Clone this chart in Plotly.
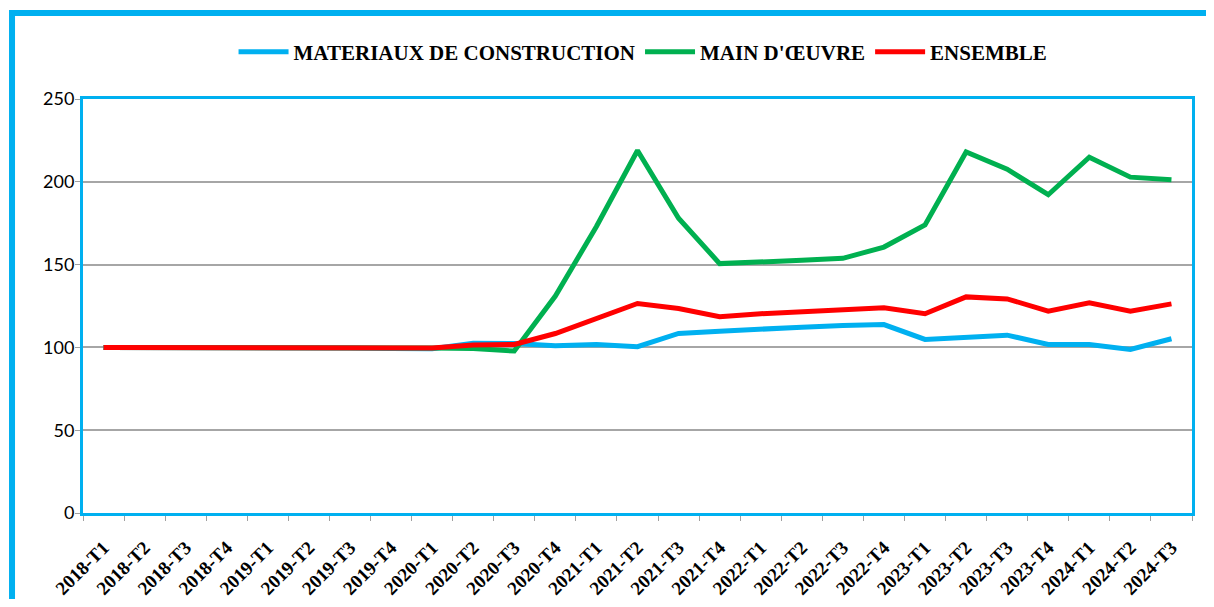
import plotly.graph_objects as go

categories = ["2018-T1", "2018-T2", "2018-T3", "2018-T4",
              "2019-T1", "2019-T2", "2019-T3", "2019-T4",
              "2020-T1", "2020-T2", "2020-T3", "2020-T4",
              "2021-T1", "2021-T2", "2021-T3", "2021-T4",
              "2022-T1", "2022-T2", "2022-T3", "2022-T4",
              "2023-T1", "2023-T2", "2023-T3", "2023-T4",
              "2024-T1", "2024-T2", "2024-T3"]

materiaux = [100, 100, 100.3, 100, 99.8, 99.6, 99.6, 99.4, 99.2, 102.5,
             102.4, 101.0, 101.8, 100.4, 108.4, 109.8, 111.2, 112.2, 113.2, 113.8,
             104.8, 105.8, 107.4, 101.8, 101.8, 98.8, 105.2]
main_oeuvre = [100, 100, 100.2, 100, 99.9, 99.8, 99.8, 99.7, 99.6, 99.4,
               97.8, 131, 173, 218.9, 178, 150.6, 151.4, 152.6, 153.8, 160.6,
               174, 218, 207.6, 192.2, 214.9, 202.8, 201.2]
ensemble = [100, 100, 100.3, 100, 99.8, 99.7, 99.7, 99.6, 99.6, 101.4,
            101.8, 108.4, 117.3, 126.5, 123.5, 118.5, 120.3, 121.5, 122.3, 123.9,
            120.3, 130.5, 129.3, 121.9, 126.9, 121.9, 126.3]

series_names = ["MATERIAUX DE CONSTRUCTION", "MAIN D'ŒUVRE", "ENSEMBLE"]
colors = ["#00B0F0", "#00B050", "#FF0000"]

fig = go.Figure()
for name, vals, col in zip(series_names, [materiaux, main_oeuvre, ensemble], colors):
    fig.add_trace(go.Scatter(x=categories, y=vals, name=name, mode="lines",
                             line=dict(color=col, width=5)))

# outer chart border (light blue frame, partially cut by window)
fig.add_shape(type="rect", xref="paper", yref="paper",
              x0=-0.064, x1=1.3, y0=-0.6, y1=1.2077,
              line=dict(color="#00B0F0", width=6), layer="below")

fig.update_layout(
    width=1198, height=591,
    margin=dict(l=75, r=14, t=91, b=86),
    paper_bgcolor="white", plot_bgcolor="white",
    showlegend=True,
    legend=dict(orientation="h", x=0.505, xanchor="center", y=1.113, yanchor="middle",
                font=dict(family="Liberation Serif", size=21, color="black", weight="bold"),
                itemwidth=50, traceorder="normal", bgcolor="rgba(0,0,0,0)"),
    xaxis=dict(type="category", tickangle=-45, tickson="boundaries",
               range=[-0.5, len(categories) - 0.5], automargin=False,
               ticks="outside", ticklen=5, tickcolor="#A0A0A0",
               showline=True, linecolor="#00B0F0", linewidth=3, mirror=True,
               showgrid=False, ticklabelstandoff=13,
               tickfont=dict(family="Liberation Serif", size=19, color="black", weight="bold")),
    yaxis=dict(range=[0, 250], dtick=50, ticks="outside", ticklen=5, tickcolor="#A0A0A0",
               showline=True, linecolor="#00B0F0", linewidth=3, mirror=True,
               showgrid=True, gridcolor="#A6A6A6", gridwidth=1.5, zeroline=False,
               ticklabelstandoff=-3, automargin=False,
               tickfont=dict(family="Lato", size=18, color="black")),
)

fig.write_html("out.html")
